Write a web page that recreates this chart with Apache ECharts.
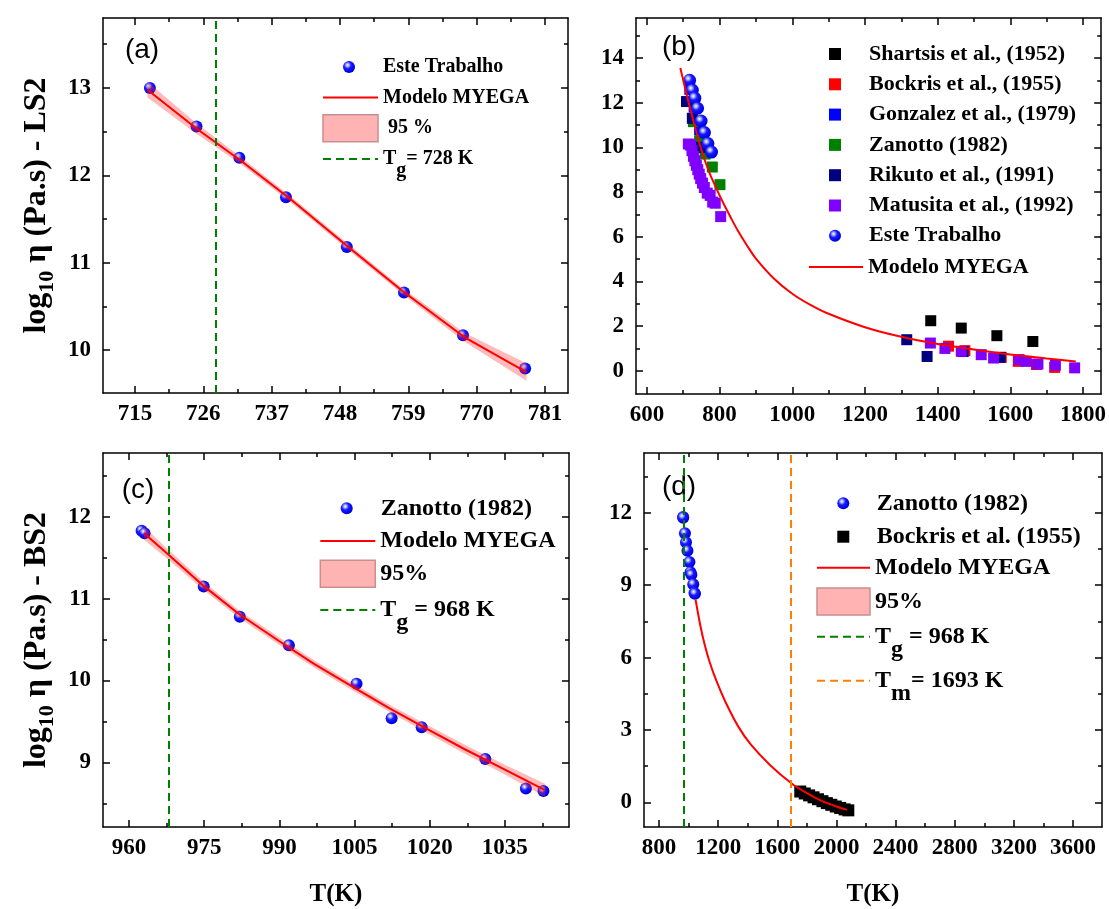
<!DOCTYPE html>
<html><head><meta charset="utf-8">
<script src="https://cdn.jsdelivr.net/npm/echarts@6/dist/echarts.min.js"></script>
<style>html,body{margin:0;padding:0;background:#fff}#c{width:1109px;height:909px}</style>
</head><body><div id="c"></div><script>
// ---------- Panel (a): LS2, este trabalho ----------
const aTemp = [717.4, 724.9, 731.8, 739.3, 749.1, 758.3, 767.8, 777.8];
const aLogEta = [13.00, 12.56, 12.20, 11.75, 11.18, 10.66, 10.17, 9.79];
const aFitTemp = [717, 725, 732, 740, 749, 758, 768, 778];
const aFitLogEta = [12.98, 12.53, 12.17, 11.73, 11.20, 10.68, 10.15, 9.75];
const aBandLow = [12.89, 12.47, 12.13, 11.695, 11.165, 10.645, 10.10, 9.65];
const aBandHigh = [13.07, 12.59, 12.21, 11.765, 11.235, 10.715, 10.20, 9.85];
const aTg = 728;
const aXTicks = [715, 726, 737, 748, 759, 770, 781];
const aXMinor = [720.5, 731.5, 742.5, 753.5, 764.5, 775.5];
const aYTicks = [10, 11, 12, 13];
const aYMinor = [10.5, 11.5, 12.5, 13.5];

// ---------- Panel (b): LS2 literature ----------
const bShartsis = [[1381, 2.24], [1465, 1.91], [1563, 1.57], [1662, 1.31]];
const bBockris = [[1430, 1.10], [1475, 0.90], [1575, 0.60], [1622, 0.42], [1672, 0.28], [1722, 0.15]];
const bGonzalez = [[718, 12.6], [730, 11.8], [745, 10.8], [760, 10.0]];
const bZanotto = [[728, 11.15], [745, 10.3], [760, 9.7], [780, 9.12], [801, 8.33]];
const bRikuto = [[709, 12.05], [725, 11.3], [746, 10.0], [1315, 1.39], [1371, 0.64], [1470, 0.86], [1572, 0.60]];
const bMatusita = [[714, 10.15], [720, 10.1], [724, 9.85], [728, 9.6], [732, 9.4], [736, 9.2], [740, 9.0], [744, 8.8],
  [748, 8.6], [753, 8.4], [758, 8.2], [766, 7.95], [774, 7.85], [781, 7.55], [788, 7.5], [803, 6.9],
  [1380, 1.24], [1420, 1.0], [1465, 0.87], [1520, 0.72], [1554, 0.57], [1624, 0.5], [1644, 0.42], [1676, 0.3], [1724, 0.25], [1777, 0.13]];
const bFitTemp = [692, 700, 710, 720, 730, 740, 750, 762, 775, 788, 800, 815, 830, 850, 875, 900, 950, 1000, 1050, 1100, 1200, 1300, 1400, 1500, 1600, 1700, 1780];
const bFitLogEta = [13.55, 13.0, 12.32, 11.68, 11.05, 10.45, 9.88, 9.3, 8.75, 8.28, 7.85, 7.35, 6.88, 6.28, 5.62, 5.02, 4.12, 3.45, 2.95, 2.55, 1.95, 1.52, 1.2, 0.95, 0.73, 0.55, 0.42];
const bXTicks = [600, 800, 1000, 1200, 1400, 1600, 1800];
const bXMinor = [700, 900, 1100, 1300, 1500, 1700];
const bYTicks = [0, 2, 4, 6, 8, 10, 12, 14];
const bYMinor = [1, 3, 5, 7, 9, 11, 13, 15];

// ---------- Panel (c): BS2, Zanotto ----------
const cTemp = [962.5, 963.1, 974.9, 982.1, 991.9, 1005.4, 1012.4, 1018.4, 1031.1, 1039.2, 1042.7];
const cLogEta = [11.83, 11.80, 11.15, 10.78, 10.43, 9.96, 9.54, 9.43, 9.04, 8.68, 8.65];
const cFitTemp = [963, 968, 975, 982, 990, 997, 1005, 1012, 1020, 1027, 1035, 1043];
const cFitLogEta = [11.80, 11.53, 11.15, 10.81, 10.48, 10.20, 9.91, 9.66, 9.39, 9.16, 8.91, 8.66];
const cBandLow = [11.72, 11.47, 11.10, 10.765, 10.435, 10.155, 9.865, 9.615, 9.34, 9.105, 8.85, 8.58];
const cBandHigh = [11.88, 11.59, 11.20, 10.855, 10.525, 10.245, 9.955, 9.705, 9.44, 9.215, 8.97, 8.74];
const cTg = 968;
const cXTicks = [960, 975, 990, 1005, 1020, 1035];
const cXMinor = [967.5, 982.5, 997.5, 1012.5, 1027.5, 1042.5];
const cYTicks = [9, 10, 11, 12];
const cYMinor = [8.5, 9.5, 10.5, 11.5, 12.5];

// ---------- Panel (d): BS2 full range ----------
const dBockris = [[1755, 0.45], [1785, 0.37], [1815, 0.29], [1845, 0.21], [1875, 0.13], [1905, 0.05], [1935, -0.03], [1965, -0.10], [1995, -0.17], [2025, -0.23], [2055, -0.29], [2080, -0.33]];
const dFitTemp = [1047, 1080, 1110, 1143, 1190, 1250, 1335, 1420, 1550, 1697, 1800, 1900, 2000, 2070];
const dFitLogEta = [8.4, 7.3, 6.5, 5.8, 5.0, 4.15, 3.15, 2.4, 1.55, 0.78, 0.38, 0.06, -0.17, -0.31];
const dTm = 1693;
const dXTicks = [800, 1200, 1600, 2000, 2400, 2800, 3200, 3600];
const dXMinor = [1000, 1400, 1800, 2200, 2600, 3000, 3400];
const dYTicks = [0, 3, 6, 9, 12];
const dYMinor = [1.5, 4.5, 7.5, 10.5, 13.5];

const TXT = {
  este: 'Este Trabalho', myega: 'Modelo MYEGA', bandA: ' 95 %', tgA: 'T{g|g}= 728 K',
  shartsis: 'Shartsis et al., (1952)', bockrisB: 'Bockris et al., (1955)', gonzalez: 'Gonzalez et al., (1979)',
  zanottoB: 'Zanotto (1982)', rikuto: 'Rikuto et al., (1991)', matusita: 'Matusita et al., (1992)',
  zanottoC: 'Zanotto (1982)', bandC: '95%', tgC: 'T{g|g} = 968 K', bockrisD: 'Bockris et al. (1955)', tmD: 'T{g|m}= 1693 K'
};

const SERIF = "'Liberation Serif', 'Times New Roman', Times, 'DejaVu Serif', serif";
const zip = (xs, ys) => xs.map((x, i) => [x, ys[i]]);
const sphere = {type: 'radial', x: 0.38, y: 0.34, r: 0.72, colorStops: [
  {offset: 0, color: '#ffffff'}, {offset: 0.16, color: '#b0b8ff'}, {offset: 0.42, color: '#1a1aff'},
  {offset: 0.85, color: '#0000e6'}, {offset: 1, color: '#0000a8'}]};

function buildAxes(dim, g, min, max, majors, minors, nameCfg) {
  const posA = dim === 'x' ? 'bottom' : 'left';
  const posB = dim === 'x' ? 'top' : 'right';
  const base = {type: 'value', gridIndex: g, min: min, max: max, splitLine: {show: false}, silent: true};
  const line = {show: true, onZero: false, lineStyle: {color: '#000', width: 1.5}};
  const noLine = {show: false, onZero: false};
  const tick = (vals, len) => ({show: true, inside: true, length: len, customValues: vals, lineStyle: {color: '#000', width: 1.5}});
  const main = Object.assign({}, base, {position: posA, axisLine: line, axisTick: tick(majors, 7),
    axisLabel: {show: true, customValues: majors, margin: dim === 'x' ? 10 : 12, color: '#000',
      fontFamily: SERIF, fontWeight: 'bold', fontSize: 23, formatter: v => String(v)}}, nameCfg || {});
  return [
    main,
    Object.assign({}, base, {position: posA, axisLine: noLine, axisTick: tick(minors, 4), axisLabel: {show: false}}),
    Object.assign({}, base, {position: posB, axisLine: line, axisTick: tick(majors, 7), axisLabel: {show: false}}),
    Object.assign({}, base, {position: posB, axisLine: noLine, axisTick: tick(minors, 4), axisLabel: {show: false}})
  ];
}
const yName = (txt) => ({name: txt, nameLocation: 'middle', nameRotate: 90, nameGap: 50,
  nameTextStyle: {color: '#000', fontFamily: SERIF, fontSize: 32, fontWeight: 'bold',
    rich: {s: {fontFamily: SERIF, fontSize: 22, fontWeight: 'bold', padding: [10, 0, -10, 0]}}}});
const xName = {name: 'T(K)', nameLocation: 'middle', nameGap: 55,
  nameTextStyle: {color: '#000', fontFamily: SERIF, fontSize: 25, fontWeight: 'bold'}};

const xAxis = [].concat(
  buildAxes('x', 0, 709.85, 784.7, aXTicks, aXMinor),
  buildAxes('x', 1, 570, 1850, bXTicks, bXMinor),
  buildAxes('x', 2, 954.8, 1047.8, cXTicks, cXMinor, xName),
  buildAxes('x', 3, 698, 3796, dXTicks, dXMinor, xName));
const yAxis = [].concat(
  buildAxes('y', 0, 9.51, 13.8, aYTicks, aYMinor, yName('log{s|10} η (Pa.s) - LS2')),
  buildAxes('y', 1, -1.04, 15.79, bYTicks, bYMinor),
  buildAxes('y', 2, 8.21, 12.78, cYTicks, cYMinor, yName('log{s|10} η (Pa.s) - BS2')),
  buildAxes('y', 3, -1.02, 14.48, dYTicks, dYMinor));

function ax(p) { return {xAxisIndex: 4 * p, yAxisIndex: 4 * p}; }
function scatter(p, name, data, symbol, size, color) {
  return Object.assign({type: 'scatter', name: name, data: data, symbol: symbol, symbolSize: size,
    itemStyle: {color: color, opacity: 1}, z: 2, silent: true}, ax(p));
}
function fit(p, temps, vals, smooth) {
  return Object.assign({type: 'line', name: 'myega', data: zip(temps, vals), smooth: smooth, showSymbol: false,
    symbol: 'none', color: '#ff0000', lineStyle: {color: '#ff0000', width: 2}, z: 4, silent: true}, ax(p));
}
function band(p, name, temps, lows, highs) {
  return Object.assign({type: 'custom', name: name, clip: true, z: 3, silent: true,
    itemStyle: {color: '#ffb3b3'},
    data: temps.map((t, i) => [t, lows[i], highs[i]]),
    encode: {x: 0, y: [1, 2]},
    renderItem: function (params, api) {
      if (params.dataIndex !== 0) return null;
      const pts = [];
      for (let i = 0; i < temps.length; i++) pts.push(api.coord([temps[i], highs[i]]));
      for (let i = temps.length - 1; i >= 0; i--) pts.push(api.coord([temps[i], lows[i]]));
      return {type: 'polygon', shape: {points: pts}, style: {fill: 'rgba(255,45,45,0.33)', stroke: null}};
    }}, ax(p));
}
function vline(p, name, value, color) {
  const ls = {color: color, width: 2, type: [8, 5]};
  return Object.assign({type: 'line', name: name, data: [], color: color, lineStyle: ls, symbol: 'none', silent: true, z: 5,
    markLine: {silent: true, symbol: ['none', 'none'], label: {show: false}, lineStyle: ls, data: [{xAxis: value}], animation: false}}, ax(p));
}

const series = [
  // (a)
  scatter(0, 'este', zip(aTemp, aLogEta), 'circle', 12, sphere),
  band(0, 'bandA', aFitTemp, aBandLow, aBandHigh),
  fit(0, aFitTemp, aFitLogEta, false),
  vline(0, 'tgA', aTg, '#008000'),
  // (b)
  scatter(1, 'shartsis', bShartsis, 'rect', 11, '#000000'),
  scatter(1, 'bockrisB', bBockris, 'rect', 11, '#ff0000'),
  scatter(1, 'gonzalez', bGonzalez, 'rect', 11, '#0000ff'),
  scatter(1, 'zanottoB', bZanotto, 'rect', 11, '#008000'),
  scatter(1, 'rikuto', bRikuto, 'rect', 11, '#000080'),
  scatter(1, 'matusita', bMatusita, 'rect', 11, '#8000ff'),
  scatter(1, 'este', zip(aTemp, aLogEta), 'circle', 13, sphere),
  fit(1, bFitTemp, bFitLogEta, 0.3),
  // (c)
  scatter(2, 'zanottoC', zip(cTemp, cLogEta), 'circle', 12, sphere),
  band(2, 'bandC', cFitTemp, cBandLow, cBandHigh),
  fit(2, cFitTemp, cFitLogEta, false),
  vline(2, 'tgC', cTg, '#008000'),
  // (d)
  scatter(3, 'zanottoC', zip(cTemp, cLogEta), 'circle', 12, sphere),
  scatter(3, 'bockrisD', dBockris, 'rect', 12, '#000000'),
  fit(3, dFitTemp, dFitLogEta, 0.3),
  vline(3, 'tgC', cTg, '#008000'),
  vline(3, 'tmD', dTm, '#ff8000')
];

function lg(o, size, weight, lh, sub, pad) {
  const ts = {color: '#000', fontFamily: SERIF, fontSize: size, fontWeight: weight, lineHeight: lh,
    rich: {g: {fontFamily: SERIF, fontSize: size, fontWeight: weight, padding: [sub, 0, -sub, 0]}}};
  if (pad) ts.padding = [0, 0, 0, pad];
  return Object.assign({orient: 'vertical', padding: 0, selectedMode: false, formatter: n => TXT[n],
    itemWidth: 12, itemHeight: 12, textStyle: ts}, o);
}
const noDot = {color: 'rgba(0,0,0,0)', borderColor: 'rgba(0,0,0,0)', borderWidth: 0};
const lineIcon = (n) => ({name: n, itemStyle: noDot});
const bandIcon = (n) => ({name: n, icon: 'rect', itemStyle: {color: '#ffb3b3', borderColor: '#c98f8f', borderWidth: 1.5}});
const legend = [
  lg({left: 343, top: 56, data: ['este']}, 20, 'bold', 22, 12, 23),
  lg({left: 322, top: 86.5, itemWidth: 55, itemHeight: 27, itemGap: 5.5, data: [lineIcon('myega'), bandIcon('bandA'), lineIcon('tgA')]}, 20, 'bold', 22, 12),
  lg({left: 829, top: 41, itemGap: 4.3, data: ['shartsis', 'bockrisB', 'gonzalez', 'zanottoB', 'rikuto', 'matusita', 'este']}, 22, 'bold', 26, 0, 23),
  lg({left: 808, top: 254, itemWidth: 54, data: [lineIcon('myega')]}, 22, 'bold', 26, 0),
  lg({left: 340.7, top: 494.8, data: ['zanottoC']}, 24, 'bold', 27, 0, 23),
  lg({left: 319.3, top: 527.5, itemWidth: 55, itemHeight: 27, itemGap: 5, data: [lineIcon('myega'), bandIcon('bandC')]}, 24, 'bold', 27, 0),
  lg({left: 319.3, top: 596.5, itemWidth: 55, itemHeight: 27, data: [lineIcon('tgC')]}, 24, 'bold', 27, 13),
  lg({left: 837.3, top: 489.8, itemGap: 6.4, data: ['zanottoC', 'bockrisD']}, 24, 'bold', 27, 0, 22.4),
  lg({left: 816, top: 554.2, itemWidth: 53, itemHeight: 27, itemGap: 6, data: [lineIcon('myega'), bandIcon('bandC')]}, 24, 'bold', 27, 0),
  lg({left: 816, top: 623.2, itemWidth: 53, itemHeight: 27, data: [lineIcon('tgC')]}, 24, 'bold', 27, 13),
  lg({left: 816, top: 667.2, itemWidth: 53, itemHeight: 27, data: [lineIcon('tmD')]}, 24, 'bold', 27, 13)
];

const panelTag = (t, x, y) => ({type: 'text', x: x, y: y, silent: true,
  style: {text: t, fontFamily: 'Liberation Sans', fontSize: 28, fill: '#000', align: 'center', verticalAlign: 'middle'}});

const chart = echarts.init(document.getElementById('c'), null, {renderer: 'canvas'});
chart.setOption({
  animation: false,
  backgroundColor: '#ffffff',
  grid: [
    {left: 103, top: 18, width: 465, height: 375},
    {left: 636, top: 18, width: 466, height: 376},
    {left: 103, top: 453, width: 466, height: 374},
    {left: 644, top: 453, width: 458, height: 374}
  ],
  xAxis: xAxis,
  yAxis: yAxis,
  legend: legend,
  series: series,
  graphic: [panelTag('(a)', 142, 50), panelTag('(b)', 679, 47), panelTag('(c)', 138, 490), panelTag('(d)', 679, 487)]
});
</script></body></html>
